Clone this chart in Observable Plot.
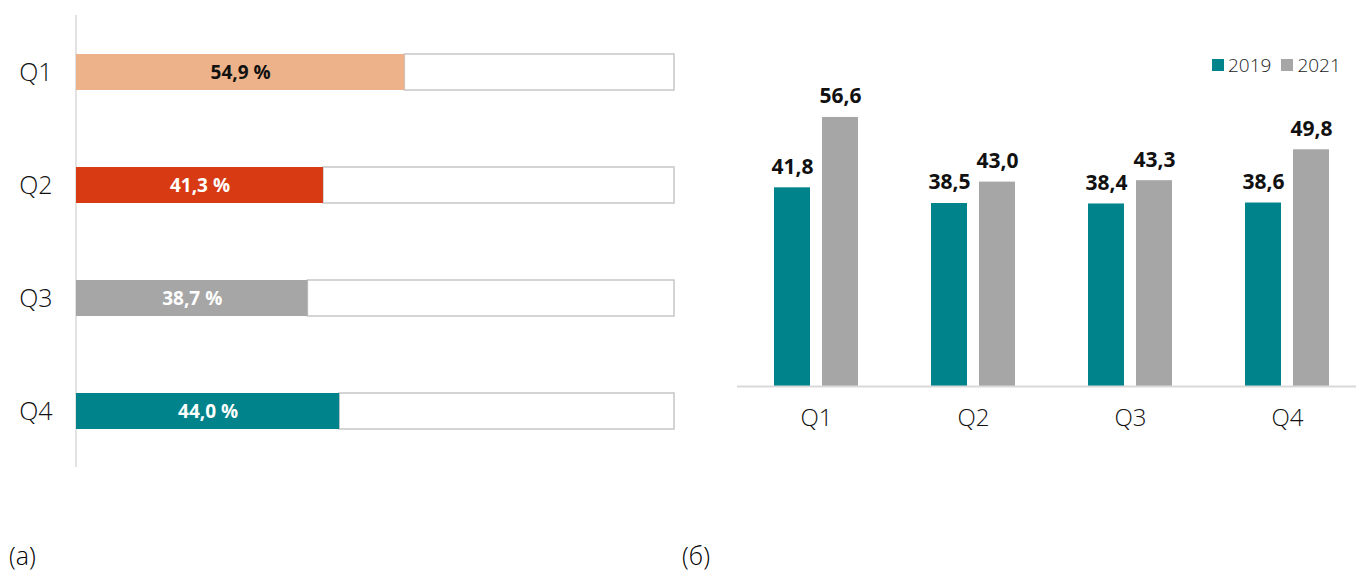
<!DOCTYPE html>
<html>
<head>
<meta charset="utf-8">
<script src="https://cdn.jsdelivr.net/npm/d3@7"></script>
<script src="https://cdn.jsdelivr.net/npm/@observablehq/plot@0.6"></script>
<style>
  html, body { margin: 0; padding: 0; background: #fff; overflow: hidden; }
  body { width: 1356px; height: 572px; position: relative; font-family: "Open Sans", sans-serif; }
  #a, #b { position: absolute; top: 0; }
  #a { left: 0; }
  #b { left: 700px; }
  .panel { position: absolute; top: 538px; font-size: 25px; font-weight: 300; color: #000; }
  #legend { position: absolute; top: 52px; left: 1212px; display: flex; align-items: center; font-size: 19px; font-weight: 300; color: #222; }
  #legend .sw { width: 12px; height: 12px; display: inline-block; margin-right: 4px; }
  #legend .it { display: flex; align-items: center; margin-right: 10px; }
</style>
</head>
<body>
<div id="a"></div>
<div id="b"></div>
<div id="legend"></div>
<div class="panel" style="left:9px">(a)</div>
<div class="panel" style="left:682px">(б)</div>
<script>
// Panel (a)
const quartersA = ["Q1", "Q2", "Q3", "Q4"];
const sharesA = [54.9, 41.3, 38.7, 44.0];
// Panel (б)
const quartersB = ["Q1", "Q2", "Q3", "Q4"];
const years = ["2019", "2021"];
const values2019 = [41.8, 38.5, 38.4, 38.6];
const values2021 = [56.6, 43.0, 43.3, 49.8];

const fillA = ["#EDB28A", "#D83A14", "#A6A6A6", "#00838A"];
const textA = ["#111", "#fff", "#fff", "#fff"];
const yearColors = {"2019": "#00838A", "2021": "#A6A6A6"};
const comma = v => d3.format(".1f")(v).replace(".", ",");

const dataA = quartersA.map((q, i) => ({q, v: sharesA[i], fill: fillA[i], tc: textA[i]}));

const plotA = Plot.plot({
  width: 700, height: 572,
  marginLeft: 76, marginRight: 26, marginTop: 15, marginBottom: 105,
  style: {fontFamily: "'Open Sans', sans-serif", background: "#fff"},
  x: {domain: [0, 100], axis: null},
  y: {domain: quartersA, paddingInner: 0.684, paddingOuter: 0.325, label: null},
  marks: [
    Plot.ruleX([0], {stroke: "#d9d9d9", strokeWidth: 1.5, dx: -0.5}),
    Plot.barX(dataA, {y: "q", x1: "v", x2: 100, fill: "#fff", stroke: "#c6c6c6", strokeWidth: 1.5}),
    Plot.barX(dataA, {y: "q", x1: 0, x2: "v", fill: d => d.fill}),
    Plot.text(dataA, {y: "q", x: d => d.v / 2, text: d => comma(d.v) + " %", fill: d => d.tc, fontSize: 19, fontWeight: "bold"}),
    Plot.axisY({tickSize: 0, tickPadding: 24, fontSize: 25, fontWeight: 300, fill: "#111", label: null})
  ]
});
document.getElementById("a").appendChild(plotA);

const dataB = [];
quartersB.forEach((q, i) => {
  dataB.push({q, year: "2019", v: values2019[i]});
  dataB.push({q, year: "2021", v: values2021[i]});
});
const d19 = dataB.filter(d => d.year === "2019");
const d21 = dataB.filter(d => d.year === "2021");

const plotB = Plot.plot({
  width: 656, height: 572,
  marginLeft: 37, marginRight: 0, marginTop: 100.8, marginBottom: 186,
  style: {fontFamily: "'Open Sans', sans-serif", background: "transparent"},
  x: {domain: quartersB, paddingInner: 0.462, paddingOuter: 0.19, align: 0.59, label: null},
  y: {domain: [0, 60], axis: null},
  marks: [
    Plot.barY(d19, {x: "q", y: "v", fill: yearColors["2019"], insetRight: 48}),
    Plot.barY(d21, {x: "q", y: "v", fill: yearColors["2021"], insetLeft: 48}),
    Plot.text(d19, {x: "q", y: "v", text: d => comma(d.v), dx: -24, dy: -14, lineAnchor: "bottom", fontSize: 21, fontWeight: "bold", fill: "#111"}),
    Plot.text(d21, {x: "q", y: "v", text: d => comma(d.v), dx: 24, dy: -14, lineAnchor: "bottom", fontSize: 21, fontWeight: "bold", fill: "#111"}),
    Plot.ruleY([0], {stroke: "#d9d9d9", strokeWidth: 2}),
    Plot.axisX({tickSize: 0, tickPadding: 22, fontSize: 24, fontWeight: 300, fill: "#111", label: null})
  ]
});
document.getElementById("b").appendChild(plotB);

const legend = document.getElementById("legend");
years.forEach(y => {
  const it = document.createElement("div");
  it.className = "it";
  it.innerHTML = `<span class="sw" style="background:${yearColors[y]}"></span><span>${y}</span>`;
  legend.appendChild(it);
});
</script>
</body>
</html>
